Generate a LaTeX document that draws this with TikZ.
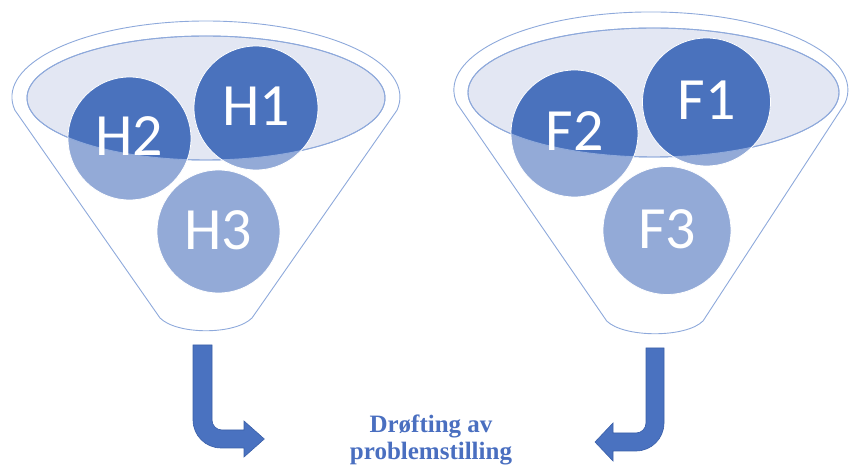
\documentclass[tikz,border=0pt]{standalone}
\usepackage{fontspec}
\setmainfont{Liberation Serif}
\newfontfamily\labelfont{Carlito}
\definecolor{rimblue}{HTML}{8EA9DB}
\definecolor{topfill}{HTML}{E3E7F3}
\definecolor{darkball}{HTML}{4A72BD}
\definecolor{lightball}{HTML}{93AAD7}
\definecolor{arrowblue}{HTML}{4A72C0}
\definecolor{arrowedge}{HTML}{3A5FA8}
\definecolor{textblue}{HTML}{4A6FC0}
\tikzset{
  funnel/.style={draw=rimblue, line width=0.9pt},
  topell/.style={draw=rimblue, line width=0.9pt, fill=topfill},
  ballrim/.style={draw=white, line width=0.8pt},
  balltext/.style={text=white, font=\labelfont\fontsize{60}{60}\selectfont, inner sep=0pt},
  bigarrow/.style={fill=arrowblue, draw=arrowedge, line width=0.6pt},
  caption/.style={text=textblue, font=\bfseries\fontsize{25}{27}\selectfont, inner sep=0pt, anchor=base}
}
\begin{document}
\begin{tikzpicture}[x=1pt,y=1pt]
\useasboundingbox (0,0) rectangle (849,466);
% ---------- left funnel ----------
\draw[funnel] (160,148) -- (14.9,355.8) arc[start angle=190, end angle=-10, x radius=194, y radius=76]
  -- (252,148) .. controls (235,131) and (177,131) .. cycle;
\draw[topell] (206,368) ellipse[x radius=179, y radius=62];
\fill[lightball] (256,358) circle[radius=62];
\fill[lightball] (129.5,327.5) circle[radius=61.5];
\fill[lightball] (218.5,234.5) circle[radius=61.5];
\begin{scope}
  \clip (206,368) ellipse[x radius=179, y radius=62];
  \fill[darkball] (256,358) circle[radius=62];
  \fill[darkball] (129.5,327.5) circle[radius=61.5];
\end{scope}
\draw[draw=rimblue, line width=0.9pt] (206,368) ellipse[x radius=179, y radius=62];
\draw[ballrim] (256,358) circle[radius=62];
\draw[ballrim] (129.5,327.5) circle[radius=61.5];
\draw[ballrim] (218.5,234.5) circle[radius=61.5];
\node[balltext] (h1) at (256,360) {H1};
\node[balltext] (h2) at (129.5,330) {H2};
\node[balltext] (h3) at (218.5,236) {H3};
% ---------- right funnel ----------
\draw[funnel] (606.7,145) -- (456.9,362.5) arc[start angle=190, end angle=-10, x radius=197, y radius=78]
  -- (703,145) .. controls (686,128) and (624,128) .. cycle;
\draw[topell] (653.5,373.5) ellipse[x radius=185.5, y radius=64.5];
\fill[lightball] (706.5,364) circle[radius=64];
\fill[lightball] (574.5,332.5) circle[radius=63.5];
\fill[lightball] (667,235.5) circle[radius=64];
\begin{scope}
  \clip (653.5,373.5) ellipse[x radius=185.5, y radius=64.5];
  \fill[darkball] (706.5,364) circle[radius=64];
  \fill[darkball] (574.5,332.5) circle[radius=63.5];
\end{scope}
\draw[draw=rimblue, line width=0.9pt] (653.5,373.5) ellipse[x radius=185.5, y radius=64.5];
\draw[ballrim] (706.5,364) circle[radius=64];
\draw[ballrim] (574.5,332.5) circle[radius=63.5];
\draw[ballrim] (667,235.5) circle[radius=64];
\node[balltext] (f1) at (706.5,366) {F1};
\node[balltext] (f2) at (574.5,335) {F2};
\node[balltext] (f3) at (667,237) {F3};
% ---------- arrows ----------
\draw[bigarrow] (193,121) -- (212,121) -- (212,46) arc[start angle=180, end angle=270, radius=10]
  -- (244,36) -- (244,45) -- (264.3,27) -- (244,9) -- (244,18) -- (221,18)
  arc[start angle=270, end angle=180, radius=28] -- cycle;
\draw[bigarrow] (664,118) -- (646,118) -- (646,43) arc[start angle=0, end angle=-90, radius=10]
  -- (613,33) -- (613,43) -- (595,24) -- (613,5) -- (613,15) -- (636,15)
  arc[start angle=-90, end angle=0, radius=28] -- cycle;
% ---------- caption ----------
\node[caption] (cap1) at (431,33) {Drøfting av};
\node[caption] (cap2) at (431,6) {problemstilling};
\end{tikzpicture}
\end{document}
